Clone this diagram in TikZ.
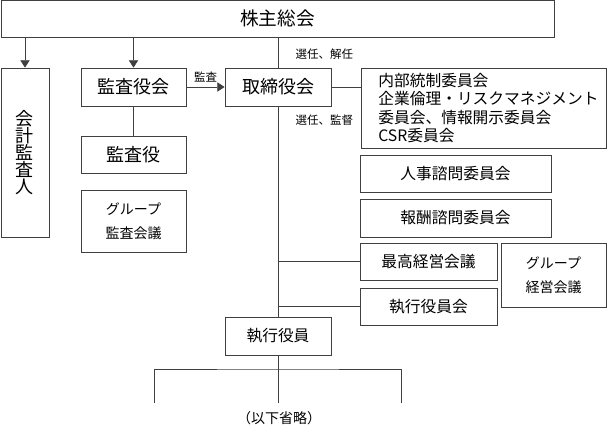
\documentclass[tikz,border=0pt]{standalone}
\usepackage{fontspec}
\setmainfont{Noto Sans CJK JP}
\usetikzlibrary{arrows.meta}

\begin{document}
\begin{tikzpicture}[x=0.75pt, y=-0.75pt,
		box/.style={draw=black!75, line width=0.6pt, inner sep=0pt, align=center},
		huge/.style={font=\fontsize{14}{16}\selectfont},
		big/.style={font=\fontsize{13.5}{16}\selectfont},
		mid/.style={font=\fontsize{11.8}{14}\selectfont},
		small/.style={font=\fontsize{10.5}{18}\selectfont},
		note/.style={font=\fontsize{8.6}{10}\selectfont},
		link/.style={draw=black!75, line width=0.6pt},
		tip/.style={link, -{Triangle[length=5.5pt, width=7pt]}}]
			\useasboundingbox (0,0) rectangle (607,427);
			\node[box, huge, minimum width=414.75pt, minimum height=27.75pt] (gm) at (277.5,18.8) {株主総会};
			\node[box, font={\fontsize{13.5}{12.6}\selectfont\lineskiplimit=-8pt}, minimum width=36pt, minimum height=126.75pt] (auditor) at (25,152.5) {会\\計\\監\\査\\人};
			\node[box, big, minimum width=78.75pt, minimum height=28.5pt] (kansayakukai) at (133.5,87) {監査役会};
			\node[box, big, minimum width=79.5pt, minimum height=28.5pt] (board) at (278,87) {取締役会};
			\node[box, minimum width=183.75pt, minimum height=60pt, text width=183.75pt, align=left, font={\fontsize{11.8}{11.8}\selectfont\lineskiplimit=-8pt}] (committees) at (483.5,108) {\hspace*{13pt}内部統制委員会\\[2pt]\hspace*{13pt}企業倫理・リスクマネジメント\\[2pt]\hspace*{13pt}委員会、情報開示委員会\\[2pt]\hspace*{13pt}CSR委員会};
			\node[box, big, minimum width=78.75pt, minimum height=27.75pt] (kansayaku) at (133.5,154.5) {監査役};
			\node[box, small, minimum width=78.75pt, minimum height=46.5pt] (gkansa) at (133.5,221) {グループ\\監査会議};
			\node[box, mid, minimum width=143.25pt, minimum height=27.75pt] (jinji) at (455.5,173.5) {人事諮問委員会};
			\node[box, mid, minimum width=143.25pt, minimum height=28.5pt] (houshu) at (455.5,218) {報酬諮問委員会};
			\node[box, mid, minimum width=102.75pt, minimum height=27.75pt] (saikou) at (428.5,261.5) {最高経営会議};
			\node[box, small, minimum width=78.75pt, minimum height=48pt] (gkeiei) at (553.5,275) {グループ\\経営会議};
			\node[box, mid, minimum width=102.75pt, minimum height=27.75pt] (shikkoukai) at (428.5,306.5) {執行役員会};
			\node[box, mid, minimum width=79.5pt, minimum height=28.5pt] (shikkou) at (278,336) {執行役員};
			\node[note, anchor=west] (appoint) at (291,54) {選任、解任};
			\node[note, anchor=west] (supervise) at (291,120) {選任、監督};
			\node[note] (audit) at (205.5,77) {監査};
			\node[small] (omitted) at (279,418) {（以下省略）};
			\coordinate (split) at (278,369);
			\coordinate (leftend) at (154,403);
			\coordinate (rightend) at (401,403);
			\draw[tip] (gm.south -| auditor.north) -- (auditor.north);
			\draw[tip] (gm.south -| kansayakukai.north) -- (kansayakukai.north);
			\draw[link] (gm.south -| board.north) -- (board.north);
			\draw[tip] (kansayakukai.east) -- (board.west);
			\draw[link] (board.east) -- (board.east -| committees.west);
			\draw[link] (kansayakukai.south) -- (kansayaku.north);
			\draw[link] (board.south) -- (shikkou.north);
			\draw[link] (board.south |- saikou.west) -- (saikou.west);
			\draw[link] (board.south |- shikkoukai.west) -- (shikkoukai.west);
			\draw[link] (shikkou.south) -- (shikkou.south |- leftend);
			\draw[link] (leftend) |- (split) -| (rightend);
		\end{tikzpicture}
\end{document}
